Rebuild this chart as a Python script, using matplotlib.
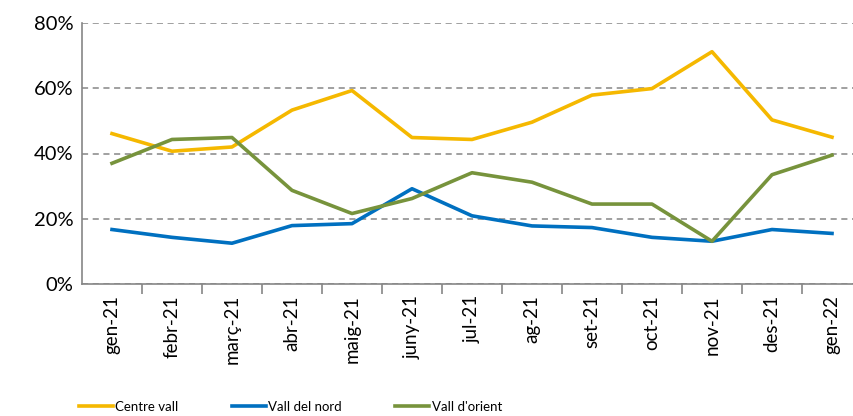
import matplotlib
matplotlib.use("Agg")
import matplotlib.pyplot as plt
from matplotlib.ticker import PercentFormatter

months = ["gen-21", "febr-21", "març-21", "abr-21", "maig-21", "juny-21", "jul-21",
          "ag-21", "set-21", "oct-21", "nov-21", "des-21", "gen-22"]

centre_vall = [46.1, 40.7, 42.0, 53.3, 59.3, 44.9, 44.3, 49.6, 57.9, 59.9, 71.2, 50.3, 45.0]
vall_del_nord = [16.7, 14.3, 12.5, 17.9, 18.5, 29.2, 20.9, 17.8, 17.3, 14.3, 13.1, 16.7, 15.5]
vall_orient = [37.0, 44.3, 44.9, 28.7, 21.6, 26.2, 34.1, 31.2, 24.5, 24.5, 13.1, 33.5, 39.5]

colors = {"Centre vall": "#F5B800", "Vall del nord": "#0070C0", "Vall d'orient": "#77933C"}

plt.rcParams["font.family"] = ["Lato", "DejaVu Sans"]

fig = plt.figure(figsize=(8.54, 4.16), dpi=100)
# axes run past the right edge, as in the reference crop
ax = fig.add_axes([82 / 854, 1 - 284 / 416, 780 / 854, 261 / 416])

x = range(len(months))
ax.plot(x, centre_vall, color=colors["Centre vall"], lw=2.6, label="Centre vall")
ax.plot(x, vall_del_nord, color=colors["Vall del nord"], lw=2.6, label="Vall del nord")
ax.plot(x, vall_orient, color=colors["Vall d'orient"], lw=2.6, label="Vall d'orient")

ax.set_ylim(0, 80)
ax.set_yticks([0, 20, 40, 60, 80])
ax.yaxis.set_major_formatter(PercentFormatter(decimals=0))
ax.set_xlim(-0.5, len(months) - 0.5)

ax.set_xticks([i + 0.5 for i in range(len(months))])
ax.set_xticklabels([])
ax.set_xticks(list(x), minor=True)
ax.set_xticklabels(months, minor=True, rotation=90, fontsize=13.5)
ax.tick_params(axis="x", which="minor", length=0, pad=8)
ax.tick_params(axis="x", which="major", length=7, color="#868686", width=1.2)
ax.tick_params(axis="y", length=0, labelsize=14.5, pad=6)

ax.grid(axis="y", color="#868686", linestyle=(0, (4, 3)), lw=1.1)
ax.set_axisbelow(True)
for side in ["top", "right"]:
    ax.spines[side].set_visible(False)
ax.spines["left"].set_color("#868686")
ax.spines["bottom"].set_color("#868686")
ax.spines["left"].set_linewidth(1.2)
ax.spines["bottom"].set_linewidth(1.2)

fig.legend(loc="center", bbox_to_anchor=(0.340, 0.022), ncol=3, frameon=False,
           fontsize=9.5, handlelength=2.6, handletextpad=0.2, columnspacing=4.0)

fig.savefig("out.png", dpi=100)
